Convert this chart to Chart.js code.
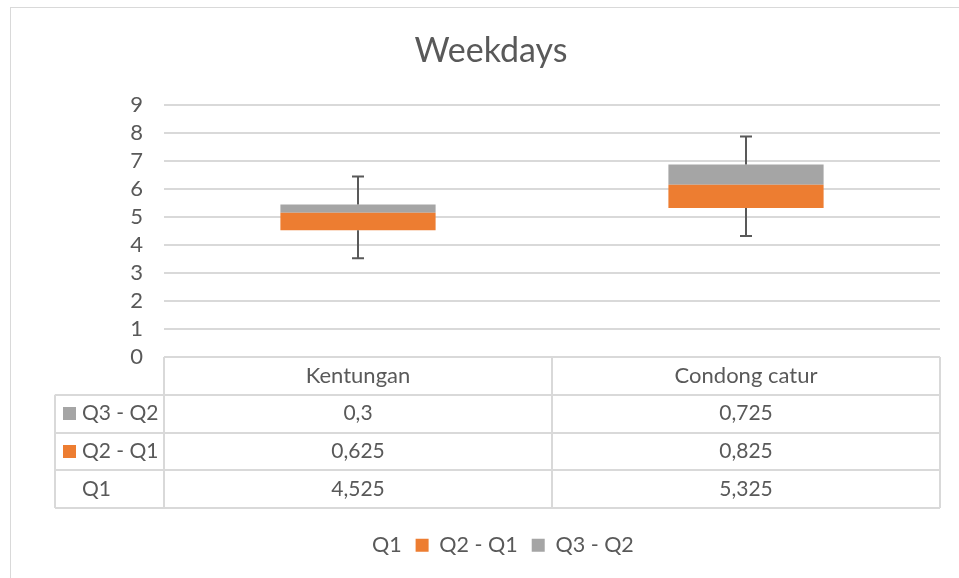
<!DOCTYPE html>
<html>
<head>
<meta charset="utf-8">
<script src="https://cdn.jsdelivr.net/npm/chart.js@4.4.1/dist/chart.umd.min.js"></script>
<style>
  html, body { margin: 0; padding: 0; background: #ffffff; overflow: hidden; }
  canvas { display: block; }
</style>
</head>
<body>
<canvas id="chart" width="959" height="578"></canvas>
<script>
// Weekday price quartiles per market
const categories = ['Kentungan', 'Condong catur'];
const q1Values = [4.525, 5.325];
const q2MinusQ1 = [0.625, 0.825];
const q3MinusQ2 = [0.3, 0.725];
const whiskerLow = [3.525, 4.325];
const whiskerHigh = [6.45, 7.875];
const seriesNames = ['Q1', 'Q2 - Q1', 'Q3 - Q2'];

const TEXT = '#595959';
const LINE = '#d9d9d9';
const ORANGE = '#ED7D31';
const GREY = '#A5A5A5';
const FAMILY = 'Lato, "Open Sans", sans-serif';

Chart.defaults.font.family = FAMILY;
Chart.defaults.font.size = 22;
Chart.defaults.color = TEXT;

const fmt = v => String(v).replace('.', ',');

// light frame around the whole chart
const framePlugin = {
  id: 'frame',
  beforeDraw(chart) {
    const ctx = chart.ctx;
    ctx.save();
    ctx.fillStyle = '#ffffff';
    ctx.fillRect(0, 0, chart.width, chart.height);
    ctx.strokeStyle = LINE;
    ctx.lineWidth = 1;
    ctx.strokeRect(10.5, 7.5, chart.width + 50, chart.height + 50);
    ctx.restore();
  }
};

// whiskers: from the box edges out to the low / high values, with caps
const whiskerPlugin = {
  id: 'whiskers',
  afterDatasetsDraw(chart) {
    const ctx = chart.ctx;
    const y = chart.scales.y;
    const base = chart.getDatasetMeta(0).data;
    const top = chart.getDatasetMeta(2).data;
    ctx.save();
    ctx.strokeStyle = TEXT;
    ctx.lineWidth = 2;
    base.forEach((bar, i) => {
      const x = Math.round(bar.x);
      const capHalf = 6;
      const yLow = y.getPixelForValue(whiskerLow[i]);
      const yHigh = y.getPixelForValue(whiskerHigh[i]);
      const yQ1 = bar.y;
      const yQ3 = top[i].y;
      ctx.beginPath();
      ctx.moveTo(x, yQ3); ctx.lineTo(x, yHigh);
      ctx.moveTo(x - capHalf, yHigh); ctx.lineTo(x + capHalf, yHigh);
      ctx.moveTo(x, yQ1); ctx.lineTo(x, yLow);
      ctx.moveTo(x - capHalf, yLow); ctx.lineTo(x + capHalf, yLow);
      ctx.stroke();
    });
    ctx.restore();
  }
};

// data table under the plot, columns follow the category scale
const tableRows = [
  { label: 'Q3 - Q2', values: q3MinusQ2, color: GREY },
  { label: 'Q2 - Q1', values: q2MinusQ1, color: ORANGE },
  { label: 'Q1', values: q1Values, color: null }
];
const tablePlugin = {
  id: 'dataTable',
  afterDraw(chart) {
    const ctx = chart.ctx;
    const xs = chart.scales.x;
    const area = chart.chartArea;
    const rowH = 37.75;
    const labelColW = 109;
    const tLeft = area.left - labelColW;
    const tRight = area.right;
    const tTop = area.bottom;
    const nRows = tableRows.length + 1;
    const tBottom = tTop + rowH * nRows;
    const colW = (area.right - area.left) / categories.length;

    ctx.save();
    ctx.strokeStyle = LINE;
    ctx.lineWidth = 2;
    ctx.beginPath();
    // horizontal rules
    for (let r = 1; r <= nRows; r++) {
      const yy = Math.round(tTop + r * rowH);
      ctx.moveTo(tLeft, yy); ctx.lineTo(tRight, yy);
    }
    // vertical rules
    ctx.moveTo(tLeft, tTop + rowH); ctx.lineTo(tLeft, tBottom);
    for (let c = 0; c <= categories.length; c++) {
      const xx = Math.round(area.left + c * colW);
      ctx.moveTo(xx, tTop); ctx.lineTo(xx, tBottom);
    }
    ctx.stroke();

    ctx.font = '21px ' + FAMILY;
    ctx.textBaseline = 'middle';
    tableRows.forEach((row, r) => {
      const cy = tTop + (r + 1.5) * rowH;
      if (row.color) {
        ctx.fillStyle = row.color;
        ctx.fillRect(tLeft + 8, Math.round(cy - 6.5), 13, 13);
      }
      ctx.fillStyle = TEXT;
      ctx.textAlign = 'left';
      ctx.fillText(row.label, tLeft + 27, cy);
      ctx.textAlign = 'center';
      row.values.forEach((v, i) => {
        ctx.fillText(fmt(v), xs.getPixelForValue(i), cy);
      });
    });
    ctx.restore();
  }
};

const PAD_LEFT = 42;

new Chart(document.getElementById('chart'), {
  type: 'bar',
  data: {
    labels: categories,
    datasets: [
      { label: seriesNames[0], data: q1Values, backgroundColor: 'rgba(0,0,0,0)', borderWidth: 0 },
      { label: seriesNames[1], data: q2MinusQ1, backgroundColor: ORANGE, borderWidth: 0 },
      { label: seriesNames[2], data: q3MinusQ2, backgroundColor: GREY, borderWidth: 0 }
    ]
  },
  options: {
    responsive: false,
    animation: false,
    layout: { padding: { left: PAD_LEFT, right: 19, top: 0, bottom: 12 } },
    datasets: { bar: { categoryPercentage: 1, barPercentage: 0.4 } },
    plugins: {
      title: {
        display: true,
        text: 'Weekdays',
        color: TEXT,
        font: { size: 34, weight: 'normal' },
        padding: { top: 30.6, bottom: 33.6 }
      },
      legend: {
        position: 'bottom',
        labels: { boxWidth: 13, boxHeight: 13, padding: 14, color: TEXT, font: { size: 21.5 } }
      },
      tooltip: { enabled: false }
    },
    scales: {
      x: {
        stacked: true,
        offset: true,
        grid: { display: false, drawTicks: false },
        border: { display: false },
        ticks: { padding: 6, maxRotation: 0, color: TEXT },
        afterFit(s) { s.height = s.chart.height - 12 - s.chart.legend.height - 357; }
      },
      y: {
        stacked: true,
        min: 0,
        max: 9,
        ticks: { stepSize: 1, padding: 21, color: TEXT, autoSkip: false },
        grid: { color: LINE, lineWidth: 2, drawTicks: false },
        border: { display: false },
        afterFit(s) { s.width = 164 - PAD_LEFT; }
      }
    }
  },
  plugins: [framePlugin, whiskerPlugin, tablePlugin]
});
</script>
</body>
</html>
